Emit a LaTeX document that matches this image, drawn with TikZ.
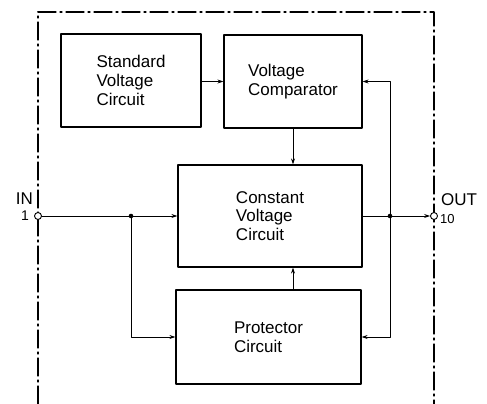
\documentclass[tikz,border=0pt]{standalone}
\usepackage{fontspec}
\setmainfont{Liberation Sans}
\usetikzlibrary{arrows.meta}

\begin{document}
\begin{tikzpicture}[
		x=1pt, y=-1pt,
		every node/.style={font=\fontsize{17}{18.8}\selectfont},
		block/.style={draw, line width=1.3pt, align=left, inner sep=0pt},
		sig/.style={line width=0.7pt, -{Stealth[length=6pt, width=4pt]}},
		wire/.style={line width=0.7pt},
		frame/.style={line width=1.3pt, dash pattern=on 18pt off 4pt on 2pt off 4pt},
		term/.style={circle, draw, fill=white, line width=0.9pt, inner sep=0pt, minimum size=7pt},
		line cap=round,
		line join=round
		]
		\useasboundingbox (0,0) rectangle (487,404);
		
		% =========================
		% Frame of the IC
		% =========================
		\def\FL{38}
		\def\FR{434}
		\def\FT{12}
		\draw[frame] (\FL,404) -- (\FL,\FT) -- (\FR,\FT) -- (\FR,404);
		
		% --------------------------------
		% Blocks
		% --------------------------------
		\node[block, minimum width=140pt, minimum height=93pt] (std)
		at (131,80.5) {Standard\\Voltage\\Circuit};
		\node[block, minimum width=138pt, minimum height=93pt] (cmp)
		at (293,81.5) {Voltage\\Comparator};
		\node[block, minimum width=184pt, minimum height=102pt] (cvc)
		at (270,216) {Constant\\Voltage\\Circuit};
		\node[block, minimum width=185pt, minimum height=94pt] (prot)
		at (268.5,337) {Protector\\Circuit};
		
		% --------------------------------
		% Terminals
		% --------------------------------
		\node[term] (in) at (\FL,216) {};
		\node[term] (out) at (\FR,216) {};
		\node[anchor=east, inner sep=0pt] (inlbl) at (33,199) {IN};
		\node[anchor=east, inner sep=0pt, font=\fontsize{14}{15}\selectfont] (innum) at (29,216) {1};
		\node[anchor=west, inner sep=0pt] (outlbl) at (441,200) {OUT};
		\node[anchor=west, inner sep=0pt, font=\fontsize{13}{15}\selectfont] (outnum) at (440,219) {10};
		
		% --------------------------------
		% Junctions
		% --------------------------------
		\coordinate (jin) at (131,216);
		\coordinate (jout) at (390,216);
		\fill (jin) circle (2.3pt);
		\fill (jout) circle (2.3pt);
		
		% --------------------------------
		% Signal paths
		% --------------------------------
		\draw[sig] (std.east |- cmp.west) -- (cmp.west);
		\draw[sig] (cmp.south) -- (cmp.south |- cvc.north);
		\draw[sig] (cmp.south |- prot.north) -- (cmp.south |- cvc.south);
		\draw[sig] (in) -- (cvc.west);
		\draw[sig] (jin) |- (prot.west);
		\draw[wire] (cvc.east) -- (jout);
		\draw[sig] (jout) -- (out);
		\draw[sig] (jout) |- (cmp.east);
		\draw[sig] (jout) |- (prot.east);
		
	\end{tikzpicture}
\end{document}
